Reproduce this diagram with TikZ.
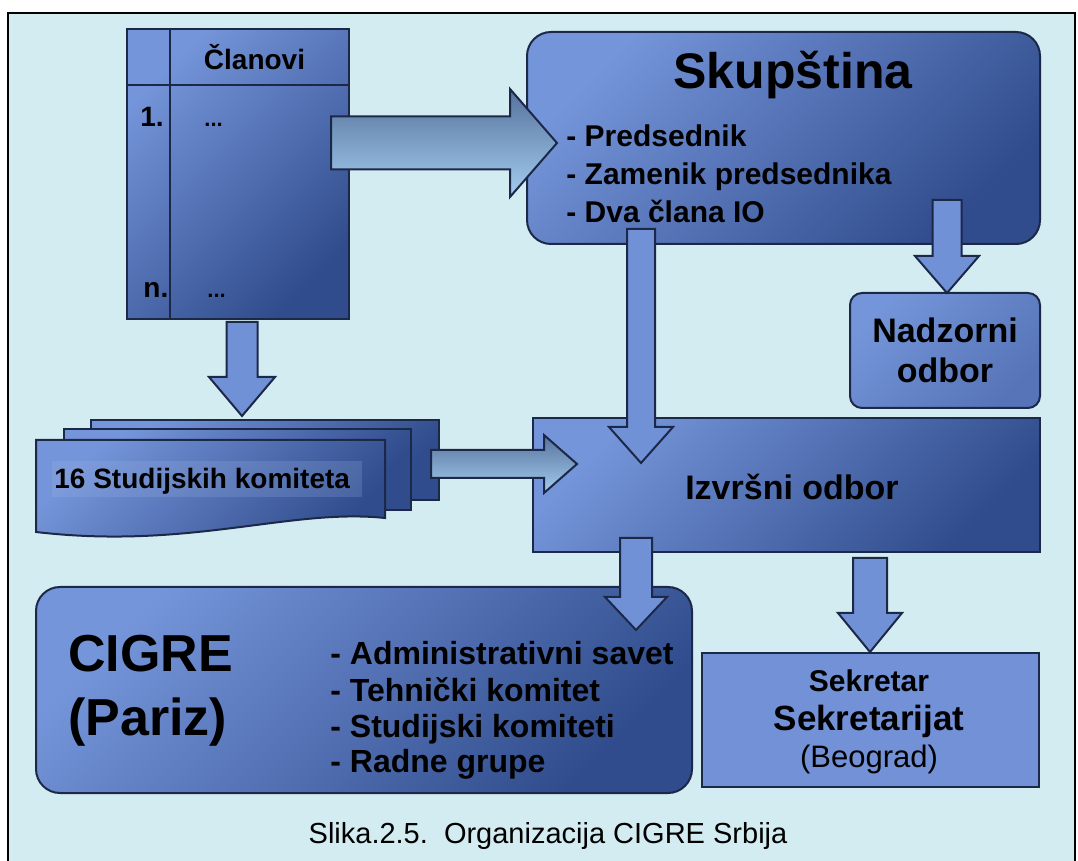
\documentclass[tikz,border=0pt]{standalone}
\usepackage{fontspec}
\setmainfont{Liberation Sans}
\usepackage{tikz}
\usetikzlibrary{calc,positioning}
\definecolor{cg-bg}{HTML}{D3ECF2}
\definecolor{cg-light}{HTML}{7595DA}
\definecolor{cg-dark}{HTML}{304C8C}
\definecolor{cg-line}{HTML}{1C2848}
\definecolor{cg-arrow}{HTML}{7191D6}
\definecolor{cg-atop}{HTML}{56729C}
\definecolor{cg-abot}{HTML}{A4CDF0}

\tikzset{
  box/.style={draw=cg-line, line width=1pt, top color=cg-light, bottom color=cg-dark,
    shading angle=45, inner sep=0pt},
  flatbox/.style={draw=cg-line, line width=1pt, fill=cg-light!95!cg-dark, inner sep=0pt},
  blkdown/.style={draw=cg-line, line width=1pt, fill=cg-arrow},
  blkright/.style={draw=cg-line, line width=1pt, top color=cg-atop, bottom color=cg-abot},
  fsz/.style={font=\fontsize{#1}{#1}\selectfont\bfseries, inner sep=0pt},
}
% block arrows: start, tip, shaft half width, head half width, head length
\newcommand{\blkdown}[5]{%
  \draw[blkdown] ($(#2|-#1)+(-#3,0)$) -- ($(#2)+(-#3,-#5)$) -- ($(#2)+(-#4,-#5)$) -- (#2)
    -- ($(#2)+(#4,-#5)$) -- ($(#2)+(#3,-#5)$) -- ($(#2|-#1)+(#3,0)$) -- cycle;}
\newcommand{\blkright}[5]{%
  \draw[blkright] ($(#1|-#2)+(0,-#3)$) -- ($(#2)+(-#5,-#3)$) -- ($(#2)+(-#5,-#4)$) -- (#2)
    -- ($(#2)+(-#5,#4)$) -- ($(#2)+(-#5,#3)$) -- ($(#1|-#2)+(0,#3)$) -- cycle;}

\begin{document}
\begin{tikzpicture}[x=0.5pt, y=-0.5pt]
  \useasboundingbox (0,0) rectangle (1078,861);
  \fill[white] (0,0) rectangle (1078,861);
  \fill[cg-bg] (8,13) rectangle (1075,861);
  \draw[line width=1.2pt] (8,870) -- (8,13) -- (1075,13) -- (1075,870);

  % boxes
  \node[box, minimum width=111pt, minimum height=145pt] (clan) at (238,174) {};
  \draw[cg-line, line width=1pt] ($(clan.north west)+(44,0)$) -- ($(clan.south west)+(44,0)$);
  \draw[cg-line, line width=1pt] ($(clan.north west)+(0,57)$) -- ($(clan.north east)+(0,57)$);
  \node[box, rounded corners=12pt, minimum width=256.5pt, minimum height=106pt] (skup) at (783.5,138) {};
  \node[box, rounded corners=6pt, top color=cg-light, bottom color=cg-light!55!cg-dark,
    shading angle=45, minimum width=95pt, minimum height=57.5pt] (nadz) at (945,350.5) {};
  \node[box, minimum width=253.5pt, minimum height=67pt] (izv) at (786.5,485) {};
  \node[box, rounded corners=12pt, minimum width=328pt, minimum height=103pt] (cigre) at (364,690) {};
  \node[flatbox, minimum width=168.5pt, minimum height=67pt] (sekr) at (870.5,720) {};

  % stacked pages
  \draw[box] (91,420) rectangle (439,500);
  \draw[box] (64,429) rectangle (411,510);
  \draw[box] (36,440) -- (385,440) -- (385,518) .. controls (290,508) and (190,550) .. (36,532) -- cycle;
  \fill[cg-light!70!white, opacity=0.22] (52,461) rectangle (362,497);

  % texts
  \node[fsz=14, anchor=base] (clan-t) at (254.5,70) {Članovi};
  \node[fsz=14, anchor=base west] (clan-1) at (140,127) {1.};
  \node[fsz=11, anchor=base west] (clan-1d) at (204,127) {...};
  \node[fsz=14, anchor=base west] (clan-n) at (143,298) {n.};
  \node[fsz=11, anchor=base west] (clan-nd) at (207,298) {...};
  \node[fsz=25, anchor=base] (skup-t) at (793,89) {Skupština};
  \node[fsz=15, anchor=base west] (skup-1) at (566,147) {- Predsednik};
  \node[fsz=15, anchor=base west] (skup-2) at (566,185) {- Zamenik predsednika};
  \node[fsz=15, anchor=base west] (skup-3) at (566,223) {- Dva člana IO};
  \node[fsz=17, anchor=base] (nadz-1) at (945,343) {Nadzorni};
  \node[fsz=17, anchor=base] (nadz-2) at (945,383) {odbor};
  \node[fsz=17, anchor=base] (izv-t) at (792,500) {Izvršni odbor};
  \node[fsz=14, anchor=base west] (stud) at (54,489) {16 Studijskih komiteta};
  \node[fsz=26, anchor=base west] (cigre-1) at (68,672) {CIGRE};
  \node[fsz=26, anchor=base west] (cigre-2) at (68,735) {(Pariz)};
  \node[fsz=16, anchor=base west] (cigre-a) at (330,665) {- Administrativni savet};
  \node[fsz=16, anchor=base west] (cigre-b) at (330,701) {- Tehnički komitet};
  \node[fsz=16, anchor=base west] (cigre-c) at (330,737) {- Studijski komiteti};
  \node[fsz=16, anchor=base west] (cigre-d) at (330,772) {- Radne grupe};
  \node[fsz=15, anchor=base] (sekr-1) at (869,691) {Sekretar};
  \node[fsz=17.5, anchor=base] (sekr-2) at (869,731) {Sekretarijat};
  \node[font=\fontsize{15.5}{15.5}\selectfont, inner sep=0pt, anchor=base] (sekr-3) at (869,768) {(Beograd)};
  \node[font=\fontsize{14.5}{14.5}\selectfont, inner sep=0pt, anchor=base] (cap) at (548,843)
    {Slika.2.5.\ \ Organizacija CIGRE Srbija};

  % arrow ends
  \coordinate (clan-out) at (331,143);
  \coordinate (skup-in) at (557,143);
  \coordinate (clan-down) at (242,322);
  \coordinate (stud-in) at (242,416);
  \coordinate (stud-out) at (431,464);
  \coordinate (izv-in) at (577,464);
  \coordinate (skup-out) at (641,229);
  \coordinate (izv-top) at (641,463);
  \coordinate (skup-out2) at (947,200);
  \coordinate (nadz-in) at (947,293);
  \coordinate (izv-out) at (636,538);
  \coordinate (cigre-in) at (636,630);
  \coordinate (izv-out2) at (870,558);
  \coordinate (sekr-in) at (870,652);

  % arrows
  \blkright{clan-out}{skup-in}{26.5}{54}{47}
  \blkdown{clan-down}{stud-in}{15.5}{33}{39}
  \blkright{stud-out}{izv-in}{14}{29}{33}
  \blkdown{skup-out}{izv-top}{14}{32}{36}
  \blkdown{skup-out2}{nadz-in}{14.5}{32}{37}
  \blkdown{izv-out}{cigre-in}{16}{31}{33}
  \blkdown{izv-out2}{sekr-in}{17}{32}{39}
\end{tikzpicture}
\end{document}
